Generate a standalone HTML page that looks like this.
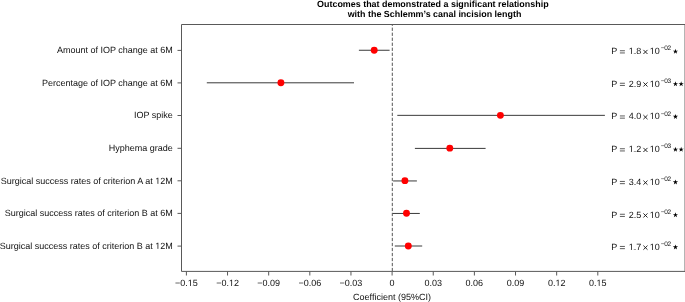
<!DOCTYPE html>
<html><head><meta charset="utf-8"><style>
html,body{margin:0;padding:0;background:#fff;width:685px;height:302px;overflow:hidden}
svg{display:block;will-change:transform}
text{font-family:"Liberation Sans",sans-serif;text-rendering:geometricPrecision}
</style></head><body>
<svg width="685" height="302" viewBox="0 0 685 302">

<text x="432.85" y="6.7" font-size="8.93" font-weight="bold" text-anchor="middle" fill="#000">Outcomes that demonstrated a significant relationship</text>
<text x="434.5" y="17.2" font-size="8.93" font-weight="bold" text-anchor="middle" fill="#000">with the Schlemm’s canal incision length</text>
<line x1="392.3" y1="24.6" x2="392.3" y2="271" stroke="#555" stroke-width="1" stroke-dasharray="3.3 1.706" stroke-dashoffset="2.0"/>
<line x1="358.9" y1="50.25" x2="389.6" y2="50.25" stroke="#3a3a3a" stroke-width="1"/>
<line x1="206.8" y1="82.8" x2="354.0" y2="82.8" stroke="#3a3a3a" stroke-width="1"/>
<line x1="397.3" y1="115.35" x2="604.9" y2="115.35" stroke="#3a3a3a" stroke-width="1"/>
<line x1="414.9" y1="148.4" x2="485.6" y2="148.4" stroke="#3a3a3a" stroke-width="1"/>
<line x1="393.1" y1="180.95" x2="416.9" y2="180.95" stroke="#3a3a3a" stroke-width="1"/>
<line x1="392.6" y1="213.45" x2="419.8" y2="213.45" stroke="#3a3a3a" stroke-width="1"/>
<line x1="394.8" y1="246.0" x2="422.2" y2="246.0" stroke="#3a3a3a" stroke-width="1"/>
<circle cx="374.2" cy="50.25" r="3.45" fill="#f00"/>
<circle cx="280.9" cy="82.75" r="3.45" fill="#f00"/>
<circle cx="500.4" cy="115.35" r="3.45" fill="#f00"/>
<circle cx="449.8" cy="148.15" r="3.45" fill="#f00"/>
<circle cx="404.9" cy="180.65" r="3.45" fill="#f00"/>
<circle cx="406.5" cy="213.25" r="3.45" fill="#f00"/>
<circle cx="408.3" cy="245.95" r="3.45" fill="#f00"/>
<path d="M685,24.5H181.5V271.4H685" fill="none" stroke="#595959" stroke-width="1"/>
<line x1="685.05" y1="24" x2="685.05" y2="272" stroke="#595959" stroke-width="1"/>
<line x1="177.5" y1="50.4" x2="181.5" y2="50.4" stroke="#595959" stroke-width="1"/>
<text x="172.8" y="53.1" font-size="9" text-anchor="end" fill="#111">Amount of IOP change at 6M</text>
<line x1="177.5" y1="82.9" x2="181.5" y2="82.9" stroke="#595959" stroke-width="1"/>
<text x="172.8" y="85.6" font-size="9" text-anchor="end" fill="#111">Percentage of IOP change at 6M</text>
<line x1="177.5" y1="115.5" x2="181.5" y2="115.5" stroke="#595959" stroke-width="1"/>
<text x="172.8" y="118.2" font-size="9" text-anchor="end" fill="#111">IOP spike</text>
<line x1="177.5" y1="148.3" x2="181.5" y2="148.3" stroke="#595959" stroke-width="1"/>
<text x="172.8" y="151.0" font-size="9" text-anchor="end" fill="#111">Hyphema grade</text>
<line x1="177.5" y1="180.8" x2="181.5" y2="180.8" stroke="#595959" stroke-width="1"/>
<text x="172.8" y="183.5" font-size="9" text-anchor="end" fill="#111">Surgical success rates of criterion A at 12M</text>
<line x1="177.5" y1="213.4" x2="181.5" y2="213.4" stroke="#595959" stroke-width="1"/>
<text x="172.8" y="216.1" font-size="9" text-anchor="end" fill="#111">Surgical success rates of criterion B at 6M</text>
<line x1="177.5" y1="246.1" x2="181.5" y2="246.1" stroke="#595959" stroke-width="1"/>
<text x="172.8" y="248.8" font-size="9" text-anchor="end" fill="#111">Surgical success rates of criterion B at 12M</text>
<line x1="186.40" y1="271.5" x2="186.40" y2="275.5" stroke="#595959" stroke-width="1"/>
<text x="186.40" y="285.6" font-size="9" text-anchor="middle" fill="#111">−0.15</text>
<line x1="227.54" y1="271.5" x2="227.54" y2="275.5" stroke="#595959" stroke-width="1"/>
<text x="227.54" y="285.6" font-size="9" text-anchor="middle" fill="#111">−0.12</text>
<line x1="268.68" y1="271.5" x2="268.68" y2="275.5" stroke="#595959" stroke-width="1"/>
<text x="268.68" y="285.6" font-size="9" text-anchor="middle" fill="#111">−0.09</text>
<line x1="309.82" y1="271.5" x2="309.82" y2="275.5" stroke="#595959" stroke-width="1"/>
<text x="309.82" y="285.6" font-size="9" text-anchor="middle" fill="#111">−0.06</text>
<line x1="350.96" y1="271.5" x2="350.96" y2="275.5" stroke="#595959" stroke-width="1"/>
<text x="350.96" y="285.6" font-size="9" text-anchor="middle" fill="#111">−0.03</text>
<line x1="392.10" y1="271.5" x2="392.10" y2="275.5" stroke="#595959" stroke-width="1"/>
<text x="392.10" y="285.6" font-size="9" text-anchor="middle" fill="#111">0</text>
<line x1="433.24" y1="271.5" x2="433.24" y2="275.5" stroke="#595959" stroke-width="1"/>
<text x="433.24" y="285.6" font-size="9" text-anchor="middle" fill="#111">0.03</text>
<line x1="474.38" y1="271.5" x2="474.38" y2="275.5" stroke="#595959" stroke-width="1"/>
<text x="474.38" y="285.6" font-size="9" text-anchor="middle" fill="#111">0.06</text>
<line x1="515.52" y1="271.5" x2="515.52" y2="275.5" stroke="#595959" stroke-width="1"/>
<text x="515.52" y="285.6" font-size="9" text-anchor="middle" fill="#111">0.09</text>
<line x1="556.66" y1="271.5" x2="556.66" y2="275.5" stroke="#595959" stroke-width="1"/>
<text x="556.66" y="285.6" font-size="9" text-anchor="middle" fill="#111">0.12</text>
<line x1="597.80" y1="271.5" x2="597.80" y2="275.5" stroke="#595959" stroke-width="1"/>
<text x="597.80" y="285.6" font-size="9" text-anchor="middle" fill="#111">0.15</text>
<text x="392" y="299.7" font-size="9" text-anchor="middle" fill="#111">Coefficient (95%CI)</text>
<text y="54.0" font-size="9" fill="#111"><tspan x="611.3">P</tspan><tspan x="628.7">1.8</tspan><tspan x="649.8">10</tspan></text>
<path d="M619.9,50.75H624.9M619.9,52.95H624.9" stroke="#333" stroke-width="0.8"/>
<path d="M643.4,49.90L647.5,54.00M647.5,49.90L643.4,54.00" stroke="#111" stroke-width="0.9"/>
<text x="660.7" y="50.00" font-size="6.5" fill="#111" letter-spacing="-0.3">−02</text>
<polygon points="675.45,48.75 676.07,50.65 678.07,50.65 676.45,51.82 677.07,53.72 675.45,52.55 673.83,53.72 674.45,51.82 672.83,50.65 674.83,50.65" fill="#000"/>
<text y="86.5" font-size="9" fill="#111"><tspan x="611.3">P</tspan><tspan x="628.7">2.9</tspan><tspan x="649.8">10</tspan></text>
<path d="M619.9,83.25H624.9M619.9,85.45H624.9" stroke="#333" stroke-width="0.8"/>
<path d="M643.4,82.40L647.5,86.50M647.5,82.40L643.4,86.50" stroke="#111" stroke-width="0.9"/>
<text x="660.7" y="82.50" font-size="6.5" fill="#111" letter-spacing="-0.3">−03</text>
<polygon points="675.45,81.25 676.07,83.15 678.07,83.15 676.45,84.32 677.07,86.22 675.45,85.05 673.83,86.22 674.45,84.32 672.83,83.15 674.83,83.15" fill="#000"/>
<polygon points="681.15,81.25 681.77,83.15 683.77,83.15 682.15,84.32 682.77,86.22 681.15,85.05 679.53,86.22 680.15,84.32 678.53,83.15 680.53,83.15" fill="#000"/>
<text y="119.2" font-size="9" fill="#111"><tspan x="611.3">P</tspan><tspan x="628.7">4.0</tspan><tspan x="649.8">10</tspan></text>
<path d="M619.9,115.95H624.9M619.9,118.15H624.9" stroke="#333" stroke-width="0.8"/>
<path d="M643.4,115.10L647.5,119.20M647.5,115.10L643.4,119.20" stroke="#111" stroke-width="0.9"/>
<text x="660.7" y="116.00" font-size="6.5" fill="#111" letter-spacing="-0.3">−02</text>
<polygon points="675.45,113.95 676.07,115.85 678.07,115.85 676.45,117.02 677.07,118.92 675.45,117.75 673.83,118.92 674.45,117.02 672.83,115.85 674.83,115.85" fill="#000"/>
<text y="152.0" font-size="9" fill="#111"><tspan x="611.3">P</tspan><tspan x="628.7">1.2</tspan><tspan x="649.8">10</tspan></text>
<path d="M619.9,148.75H624.9M619.9,150.95H624.9" stroke="#333" stroke-width="0.8"/>
<path d="M643.4,147.90L647.5,152.00M647.5,147.90L643.4,152.00" stroke="#111" stroke-width="0.9"/>
<text x="660.7" y="148.00" font-size="6.5" fill="#111" letter-spacing="-0.3">−03</text>
<polygon points="675.45,146.75 676.07,148.65 678.07,148.65 676.45,149.82 677.07,151.72 675.45,150.55 673.83,151.72 674.45,149.82 672.83,148.65 674.83,148.65" fill="#000"/>
<polygon points="681.15,146.75 681.77,148.65 683.77,148.65 682.15,149.82 682.77,151.72 681.15,150.55 679.53,151.72 680.15,149.82 678.53,148.65 680.53,148.65" fill="#000"/>
<text y="184.7" font-size="9" fill="#111"><tspan x="611.3">P</tspan><tspan x="628.7">3.4</tspan><tspan x="649.8">10</tspan></text>
<path d="M619.9,181.45H624.9M619.9,183.65H624.9" stroke="#333" stroke-width="0.8"/>
<path d="M643.4,180.60L647.5,184.70M647.5,180.60L643.4,184.70" stroke="#111" stroke-width="0.9"/>
<text x="660.7" y="180.70" font-size="6.5" fill="#111" letter-spacing="-0.3">−02</text>
<polygon points="675.45,179.45 676.07,181.35 678.07,181.35 676.45,182.52 677.07,184.42 675.45,183.25 673.83,184.42 674.45,182.52 672.83,181.35 674.83,181.35" fill="#000"/>
<text y="217.5" font-size="9" fill="#111"><tspan x="611.3">P</tspan><tspan x="628.7">2.5</tspan><tspan x="649.8">10</tspan></text>
<path d="M619.9,214.25H624.9M619.9,216.45H624.9" stroke="#333" stroke-width="0.8"/>
<path d="M643.4,213.40L647.5,217.50M647.5,213.40L643.4,217.50" stroke="#111" stroke-width="0.9"/>
<text x="660.7" y="213.50" font-size="6.5" fill="#111" letter-spacing="-0.3">−02</text>
<polygon points="675.45,212.25 676.07,214.15 678.07,214.15 676.45,215.32 677.07,217.22 675.45,216.05 673.83,217.22 674.45,215.32 672.83,214.15 674.83,214.15" fill="#000"/>
<text y="249.7" font-size="9" fill="#111"><tspan x="611.3">P</tspan><tspan x="628.7">1.7</tspan><tspan x="649.8">10</tspan></text>
<path d="M619.9,246.45H624.9M619.9,248.65H624.9" stroke="#333" stroke-width="0.8"/>
<path d="M643.4,245.60L647.5,249.70M647.5,245.60L643.4,249.70" stroke="#111" stroke-width="0.9"/>
<text x="660.7" y="245.70" font-size="6.5" fill="#111" letter-spacing="-0.3">−02</text>
<polygon points="675.45,244.45 676.07,246.35 678.07,246.35 676.45,247.52 677.07,249.42 675.45,248.25 673.83,249.42 674.45,247.52 672.83,246.35 674.83,246.35" fill="#000"/>
<path d="M155.18,183H157.55V184H155.18ZM158.34,183H160.18V184H158.34Z" fill="#fff"/>
<path d="M155.17,248H157.53V249H155.17ZM158.33,248H160.17V249H158.33Z" fill="#fff"/>
<path d="M187.66,285H190.02V286H187.66ZM190.82,285H192.66V286H190.82Z" fill="#fff"/>
<path d="M228.80,285H231.16V286H228.80ZM231.96,285H233.80V286H231.96Z" fill="#fff"/>
<path d="M555.29,285H557.66V286H555.29ZM558.45,285H560.29V286H558.45Z" fill="#fff"/>
<path d="M596.43,285H598.80V286H596.43ZM599.59,285H601.43V286H599.59Z" fill="#fff"/>
<path d="M628.60,53H630.96V54H628.60ZM631.76,53H633.60V54H631.76Z" fill="#fff"/>
<path d="M649.70,53H652.06V54H649.70ZM652.86,53H654.70V54H652.86Z" fill="#fff"/>
<path d="M649.70,86H652.06V87H649.70ZM652.86,86H654.70V87H652.86Z" fill="#fff"/>
<path d="M649.70,118H652.06V119H649.70ZM652.86,118H654.70V119H652.86Z" fill="#fff"/>
<path d="M628.60,151H630.96V152H628.60ZM631.76,151H633.60V152H631.76Z" fill="#fff"/>
<path d="M649.70,151H652.06V152H649.70ZM652.86,151H654.70V152H652.86Z" fill="#fff"/>
<path d="M649.70,184H652.06V185H649.70ZM652.86,184H654.70V185H652.86Z" fill="#fff"/>
<path d="M649.70,217H652.06V218H649.70ZM652.86,217H654.70V218H652.86Z" fill="#fff"/>
<path d="M628.60,249H630.96V250H628.60ZM631.76,249H633.60V250H631.76Z" fill="#fff"/>
<path d="M649.70,249H652.06V250H649.70ZM652.86,249H654.70V250H652.86Z" fill="#fff"/>
</svg></body></html>
